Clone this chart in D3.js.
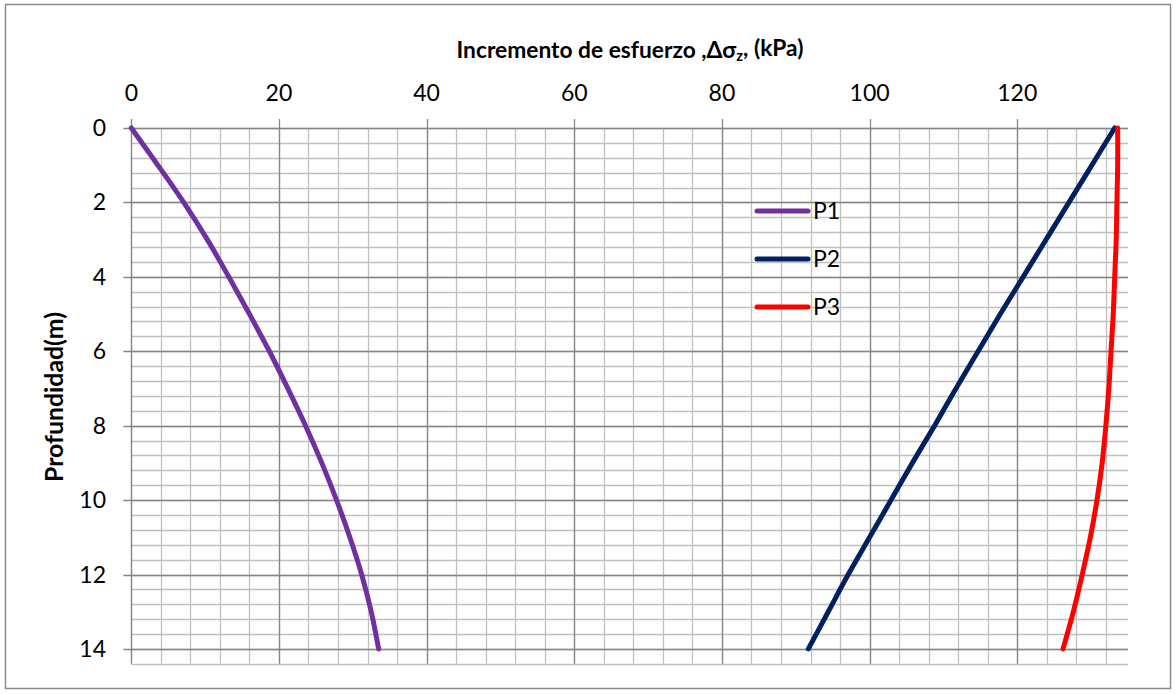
<!DOCTYPE html>
<html><head><meta charset="utf-8">
<script src="https://cdn.jsdelivr.net/npm/d3@7"></script>
<style>
html,body{margin:0;padding:0;background:#fff;}
svg{display:block;font-family:Lato,"Open Sans",sans-serif;}
</style></head>
<body><svg id="c" width="1176" height="694"></svg>
<script>
const depths = [0,1,2,3,4,5,6,7,8,9,10,11,12,13,14];
const p1 = [0,3.6,7.1,10.3,13.2,16.0,18.7,21.2,23.6,25.8,27.8,29.6,31.2,32.5,33.5];
const p2 = [133.2,130.1,127.0,123.9,120.8,117.7,114.7,111.7,108.8,105.8,102.9,100.0,97.1,94.4,91.7];
const p3 = [133.6,133.6,133.5,133.4,133.2,133.0,132.7,132.4,132.0,131.5,130.8,129.9,128.8,127.6,126.2];
const seriesNames = ["P1","P2","P3"];
const seriesColors = ["#7030A0","#002060","#FF0000"];
const xTicks = [0,20,40,60,80,100,120];
const yTicks = [0,2,4,6,8,10,12,14];
const xTitle = "Incremento de esfuerzo ,Δσ";
const yTitle = "Profundidad(m)";

const svg = d3.select("#c");
svg.append("rect").attr("x",5.5).attr("y",4.5).attr("width",1165).attr("height",684)
  .attr("fill","#fff").attr("stroke","#8c8c8c").attr("stroke-width",1.5);

const x = d3.scaleLinear().domain([0,135]).range([131.3,1128]);
const y = d3.scaleLinear().domain([0,14.4]).range([128,663.8]);

const g = svg.append("g");
const xMinor = d3.range(0,135.01,4);
const yMinor = d3.range(0,36.01,1).map(i=>+(i*0.4).toFixed(1));
g.selectAll(".vx").data(xMinor).enter().append("line")
  .attr("x1",d=>Math.round(x(d))+0.5).attr("x2",d=>Math.round(x(d))+0.5)
  .attr("y1",y(0)).attr("y2",y(14.4)).attr("stroke","#c0c0c0").attr("stroke-width",1.3);
g.selectAll(".hy").data(yMinor).enter().append("line")
  .attr("y1",d=>Math.round(y(d))+0.5).attr("y2",d=>Math.round(y(d))+0.5)
  .attr("x1",x(0)).attr("x2",x(135)).attr("stroke","#c0c0c0").attr("stroke-width",1.3);
g.selectAll(".mx").data(xTicks).enter().append("line")
  .attr("x1",d=>Math.round(x(d))+0.5).attr("x2",d=>Math.round(x(d))+0.5)
  .attr("y1",y(0)-9).attr("y2",y(14.4)).attr("stroke","#868686").attr("stroke-width",1.3);
g.selectAll(".my").data(yTicks).enter().append("line")
  .attr("y1",d=>Math.round(y(d))+0.5).attr("y2",d=>Math.round(y(d))+0.5)
  .attr("x1",x(0)-8).attr("x2",x(135)).attr("stroke","#868686").attr("stroke-width",1.3);

// tick labels
g.selectAll(".xl").data(xTicks).enter().append("text")
  .attr("x",d=>x(d)).attr("y",101).attr("text-anchor","middle")
  .attr("font-size",23).attr("fill","#000").text(d=>d);
g.selectAll(".yl").data(yTicks).enter().append("text")
  .attr("x",106).attr("y",d=>y(d)+8).attr("text-anchor","end")
  .attr("font-size",23).attr("fill","#000").text(d=>d);

function fit(sel, target){
  const w = sel.node().getBBox().width;
  const fs = +sel.attr("font-size");
  sel.attr("font-size", fs*target/w);
}
// titles
const t = svg.append("text").attr("x",630).attr("y",58).attr("text-anchor","middle")
  .attr("font-size",20).attr("font-weight","bold").attr("fill","#000");
t.append("tspan").text(xTitle);
t.append("tspan").attr("font-size","0.65em").attr("dy","0.2em").text("z");
t.append("tspan").attr("dy","-0.2em").text(", (kPa)");
fit(t, 347);
const yt = svg.append("text").attr("transform","translate(63,397) rotate(-90)")
  .attr("text-anchor","middle").attr("font-size",20).attr("font-weight","bold")
  .attr("fill","#000").text(yTitle);
fit(yt, 170);

// lines
const all = [p1,p2,p3];
const line = d3.line().x(d=>x(d[0])).y(d=>y(d[1])).curve(d3.curveCatmullRom.alpha(0.5));
all.forEach((s,i)=>{
  svg.append("path").datum(s.map((v,j)=>[v,depths[j]]))
    .attr("d",line).attr("fill","none").attr("stroke",seriesColors[i])
    .attr("stroke-width",5).attr("stroke-linecap","round").attr("stroke-linejoin","round");
});

// legend
const leg = svg.append("g");
seriesNames.forEach((n,i)=>{
  const ly = 211 + i*48;
  leg.append("line").attr("x1",757).attr("x2",808).attr("y1",ly).attr("y2",ly)
    .attr("stroke",seriesColors[i]).attr("stroke-width",5).attr("stroke-linecap","round");
  leg.append("text").attr("x",813).attr("y",ly+8).attr("font-size",23).attr("fill","#000").text(n);
});
</script>
</body></html>
